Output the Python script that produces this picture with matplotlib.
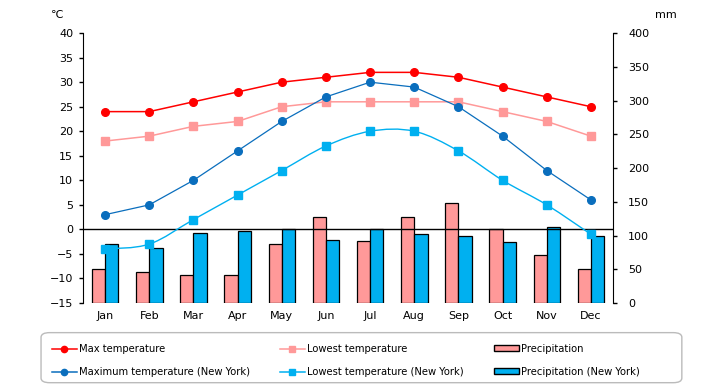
import numpy as np
import matplotlib
matplotlib.use("Agg")
import matplotlib.pyplot as plt
from matplotlib.path import Path
from matplotlib.patches import PathPatch, FancyBboxPatch
import matplotlib.lines as mlines

months = ["Jan", "Feb", "Mar", "Apr", "May", "Jun", "Jul", "Aug", "Sep", "Oct", "Nov", "Dec"]

max_temp = [24, 24, 26, 28, 30, 31, 32, 32, 31, 29, 27, 25]
low_temp = [18, 19, 21, 22, 25, 26, 26, 26, 26, 24, 22, 19]
precip = [50, 46, 42, 42, 87, 128, 92, 127, 148, 110, 71, 50]

max_temp_ny = [3, 5, 10, 16, 22, 27, 30, 29, 25, 19, 12, 6]
low_temp_ny = [-4, -3, 2, 7, 12, 17, 20, 20, 16, 10, 5, -1]
precip_ny = [87, 82, 103, 106, 110, 93, 110, 102, 99, 90, 113, 99]

c_red = "#ff0000"
c_pink = "#ff9999"
c_navy = "#0a6ebd"
c_sky = "#00b0f0"


def smooth_path(xs, ys):
    # excel-like smoothed line: catmull-rom turned into cubic bezier pieces
    pts = np.column_stack([xs, ys]).astype(float)
    n = len(pts)
    verts = [pts[0]]
    codes = [Path.MOVETO]
    for i in range(n - 1):
        p0 = pts[i - 1] if i > 0 else pts[i]
        p1 = pts[i]
        p2 = pts[i + 1]
        p3 = pts[i + 2] if i + 2 < n else pts[i + 1]
        verts += [p1 + (p2 - p0) / 6.0, p2 - (p3 - p1) / 6.0, p2]
        codes += [Path.CURVE4] * 3
    return Path(verts, codes)


fig = plt.figure(figsize=(7.2, 3.85), dpi=100)
ax = fig.add_axes([0.1153, 0.213, 0.7361, 0.701])
ax2 = ax.twinx()
ax.set_zorder(ax2.get_zorder() + 1)
ax.patch.set_visible(False)
ax2.patch.set_facecolor("#ffffcc")

x = np.arange(len(months))
bw = 0.3
ax2.bar(x - bw / 2, precip, bw, color=c_pink, edgecolor="black", linewidth=0.9, zorder=2)
ax2.bar(x + bw / 2, precip_ny, bw, color=c_sky, edgecolor="black", linewidth=0.9, zorder=2)
ax2.set_ylim(0, 400)
ax2.set_yticks(np.arange(0, 401, 50))

ax.axhline(0, color="black", linewidth=1.0, zorder=1)

ax.plot(x, max_temp, color=c_red, marker="o", markersize=5.5, linewidth=1.1, zorder=3)
ax.plot(x, low_temp, color=c_pink, marker="s", markersize=5.5, linewidth=1.1, zorder=3)
ax.plot(x, max_temp_ny, color=c_navy, marker="o", markersize=5.5, linewidth=0.9, zorder=3)
ax.add_patch(PathPatch(smooth_path(x, low_temp_ny), facecolor="none", edgecolor=c_sky, linewidth=1.0, zorder=3))
ax.plot(x, low_temp_ny, color=c_sky, marker="s", markersize=5.5, linestyle="none", zorder=3)

ax.set_xlim(-0.5, len(months) - 0.5)
ax.set_ylim(-15, 40)
ax.set_yticks(np.arange(-15, 41, 5))
ax.set_xticks(x)
ax.set_xticklabels(months)

for a in (ax, ax2):
    a.spines["top"].set_visible(False)
    a.spines["bottom"].set_visible(False)
    a.tick_params(axis="x", length=0, pad=6, labelsize=8)
    a.tick_params(axis="y", length=3, width=1, labelsize=8)
ax.spines["right"].set_visible(False)
ax2.spines["left"].set_visible(False)
ax.tick_params(axis="y", pad=4)
ax2.tick_params(axis="y", pad=8)

fig.text(0.079, 0.96, "℃", fontsize=8, ha="center", va="center")
fig.text(0.925, 0.96, "mm", fontsize=8, ha="center", va="center")

# legend frame drawn on its own so the columns can sit where they do in the original
frame = FancyBboxPatch((0.057, 0.006), 0.890, 0.130, transform=fig.transFigure,
                       boxstyle="round,pad=0,rounding_size=0.012",
                       facecolor="white", edgecolor="#bbbbbb", linewidth=1.0)
fig.patches.append(frame)

handles = [
    mlines.Line2D([], [], color=c_red, marker="o", markersize=4.5, linewidth=1.1),
    mlines.Line2D([], [], color=c_navy, marker="o", markersize=4.5, linewidth=1.1),
    mlines.Line2D([], [], color=c_pink, marker="s", markersize=4.5, linewidth=1.1),
    mlines.Line2D([], [], color=c_sky, marker="s", markersize=4.5, linewidth=1.1),
    plt.Rectangle((0, 0), 1, 1, facecolor=c_pink, edgecolor="black", linewidth=1.0),
    plt.Rectangle((0, 0), 1, 1, facecolor=c_sky, edgecolor="black", linewidth=1.0),
]
labels = ["Max temperature", "Maximum temperature (New York)",
          "Lowest temperature", "Lowest temperature (New York)",
          "Precipitation", "Precipitation (New York)"]
leg = fig.legend(handles, labels, ncol=3, loc="upper left",
                 bbox_to_anchor=(0.0722, 0.107),
                 fontsize=7.2, frameon=False,
                 handlelength=2.5, handleheight=0.5, handletextpad=0.2,
                 borderpad=0, borderaxespad=0, labelspacing=1.3, columnspacing=3.0)

fig.savefig("out.png", dpi=100)
